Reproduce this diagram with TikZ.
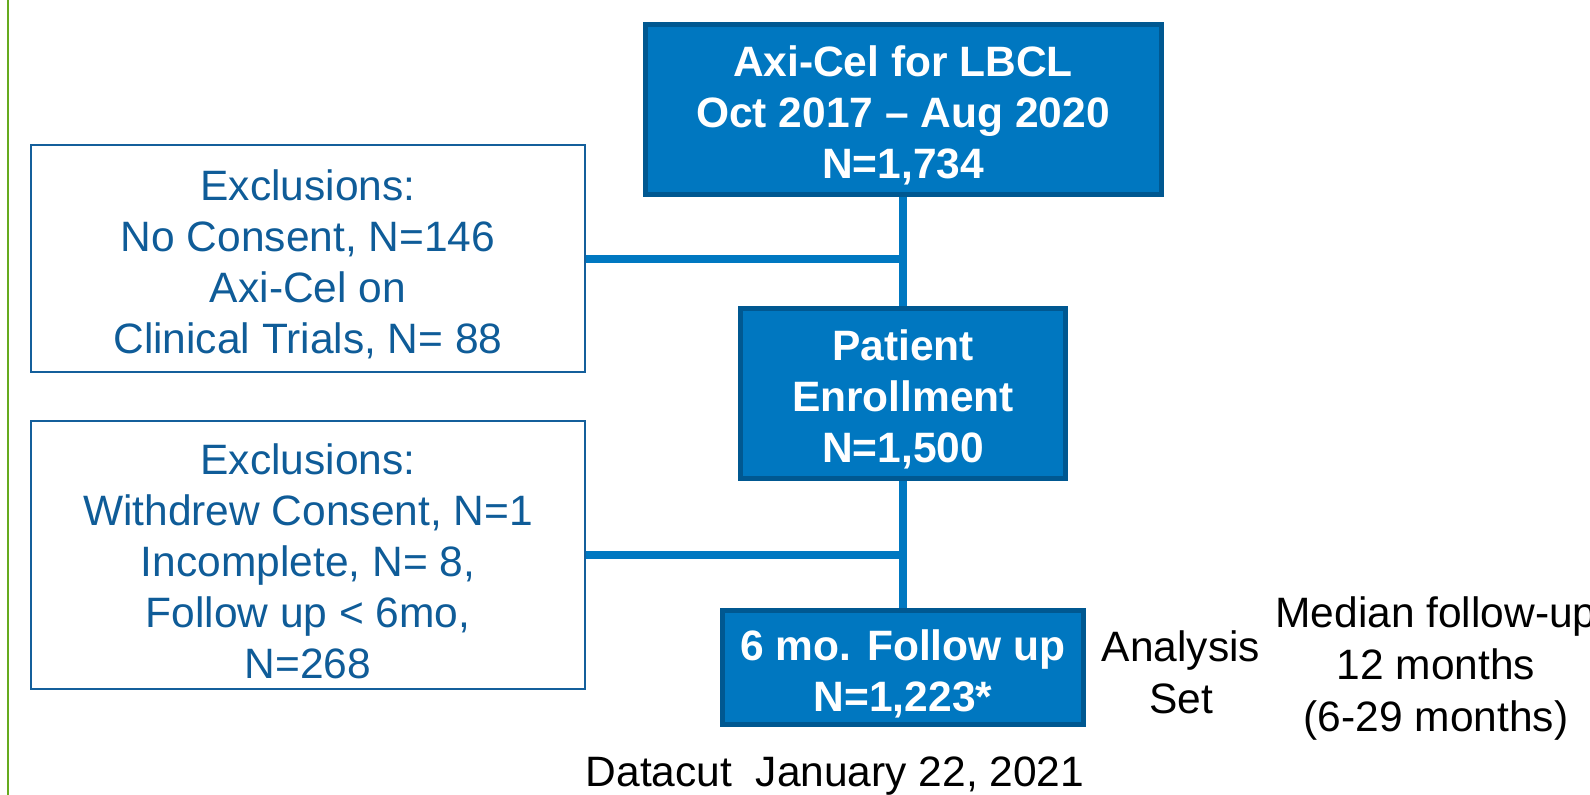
\documentclass[tikz,border=0pt]{standalone}
\usepackage{fontspec}
\setmainfont{Liberation Sans}
\definecolor{boxblue}{RGB}{0,119,192}
\definecolor{boxedge}{RGB}{0,88,145}
\definecolor{linkblue}{RGB}{0,120,193}
\definecolor{excledge}{RGB}{20,95,155}
\definecolor{excltext}{RGB}{15,92,152}
\definecolor{rulegreen}{RGB}{102,170,30}
\usetikzlibrary{positioning}
\tikzset{
    mainbox/.style={
           rectangle,
           fill=boxblue,
           draw=boxedge, line width=5pt,
           text=white,
           font=\bfseries\fontsize{42.5}{51}\selectfont,
           inner sep=0pt,
           align=center,
           },
    exclbox/.style={
           rectangle,
           draw=excledge, line width=2pt,
           text=excltext,
           font=\fontsize{42.5}{51}\selectfont,
           inner sep=0pt,
           align=center,
           },
    note/.style={
           text=black,
           font=\fontsize{42.5}{52}\selectfont,
           inner sep=0pt,
           align=center,
           },
    link/.style={draw=linkblue, line width=8pt},
}
\newcommand{\lift}{\rule{0pt}{43pt}}
\newcommand{\excl}{\lift Exclusions:}

\begin{document}
\begin{tikzpicture}[x=1pt, y=-1pt]
  \useasboundingbox (0,0) rectangle (1590,795);
  \draw[rulegreen, line width=2pt] (8,0) -- (8,795);
  % boxes
  \node[mainbox, minimum width=516, minimum height=170] (A) at (903, 109.5) {\lift Axi-Cel for LBCL\\Oct 2017 -- Aug 2020\\N=1,734};
  \node[mainbox, minimum width=325, minimum height=170] (B) at (903, 393.5) {\lift Patient\\Enrollment\\N=1,500};
  \node[mainbox, minimum width=361, minimum height=114] (C) at (903, 667.5) {\lift 6 mo. Follow up\\N=1,223*};
  \node[exclbox, minimum width=554, minimum height=227] (D) at (308, 258.5) {\excl\\No Consent, N=146\\Axi-Cel on\\Clinical Trials, N= 88};
  \node[exclbox, minimum width=554, minimum height=268] (E) at (308, 555) {\excl\\Withdrew Consent, N=1\\Incomplete, N= 8,\\Follow up < 6mo,\\N=268};
  % side texts
  \node[note] (F) at (1181, 672) {Analysis\\Set};
  \node[note] (G) at (1436, 668) {Median follow-up\\12 months\\(6-29 months)};
  \node[note] (H) at (835, 776) {Datacut\ \ January 22, 2021};
  % connectors
  \draw[link] (A.south) -- (B.north);
  \draw[link] (B.south) -- (C.north);
  \draw[link] (D.east) -- (D.east -| A.south);
  \draw[link] (E.east) -- (E.east -| B.south);
\end{tikzpicture}
\end{document}
